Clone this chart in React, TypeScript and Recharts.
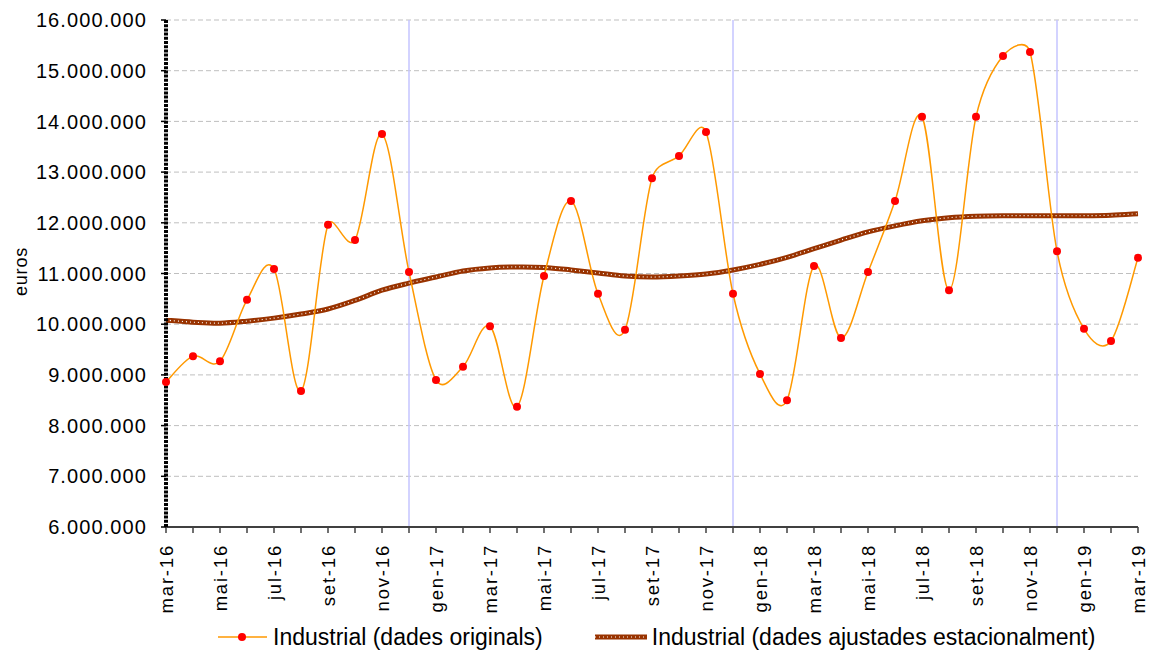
import { LineChart, Line, XAxis, YAxis, CartesianGrid, Legend, ReferenceLine } from 'recharts';

const months = [
  'mar-16', 'abr-16', 'mai-16', 'jun-16', 'jul-16', 'ago-16', 'set-16', 'oct-16', 'nov-16', 'des-16',
  'gen-17', 'feb-17', 'mar-17', 'abr-17', 'mai-17', 'jun-17', 'jul-17', 'ago-17', 'set-17', 'oct-17', 'nov-17', 'des-17',
  'gen-18', 'feb-18', 'mar-18', 'abr-18', 'mai-18', 'jun-18', 'jul-18', 'ago-18', 'set-18', 'oct-18', 'nov-18', 'des-18',
  'gen-19', 'feb-19', 'mar-19',
];

// dades originals (euros)
const original = [
  8860000, 9370000, 9270000, 10480000, 11090000, 8680000, 11960000, 11660000, 13750000, 11030000,
  8900000, 9160000, 9960000, 8370000, 10950000, 12430000, 10600000, 9890000, 12880000, 13320000, 13790000, 10600000,
  9020000, 8500000, 11150000, 9730000, 11030000, 12430000, 14090000, 10670000, 14090000, 15290000, 15370000, 11440000,
  9910000, 9670000, 11310000,
];

// dades ajustades estacionalment (euros)
const adjusted = [
  10080000, 10040000, 10020000, 10060000, 10120000, 10200000, 10300000, 10470000, 10670000, 10810000,
  10930000, 11050000, 11110000, 11130000, 11120000, 11070000, 11010000, 10950000, 10930000, 10950000, 10990000, 11070000,
  11180000, 11320000, 11490000, 11660000, 11820000, 11940000, 12040000, 12100000, 12130000, 12140000, 12140000, 12140000,
  12140000, 12150000, 12180000,
];

const yTicks = [6000000, 7000000, 8000000, 9000000, 10000000, 11000000, 12000000, 13000000, 14000000, 15000000, 16000000];
const yearMarks = ['des-16', 'des-17', 'des-18'];

const data = months.map((m, i) => ({ mes: m, orig: original[i], ajust: adjusted[i] }));

const FONT = '"Liberation Sans", Arial, sans-serif';

const fmt = (v: number) => String(v).replace(/\B(?=(\d{3})+(?!\d))/g, '.');

const dist = (a: number[], b: number[]) => Math.hypot(b[0] - a[0], b[1] - a[1]);

// corba suavitzada com la d'Excel (Bezier amb braços limitats)
const smoothCurve = (context: any) => {
  let pts: number[][] = [];
  return {
    areaStart() {},
    areaEnd() {},
    lineStart() {
      pts = [];
    },
    point(x: number, y: number) {
      pts.push([+x, +y]);
    },
    lineEnd() {
      if (!pts.length) return;
      context.moveTo(pts[0][0], pts[0][1]);
      for (let i = 0; i < pts.length - 1; i++) {
        const p0 = pts[Math.max(i - 1, 0)];
        const p1 = pts[i];
        const p2 = pts[i + 1];
        const p3 = pts[Math.min(i + 2, pts.length - 1)];
        const d12 = dist(p1, p2);
        const d02 = dist(p0, p2);
        const d13 = dist(p1, p3);
        let f1 = 1 / 6;
        let f2 = 1 / 6;
        if (d02 / 6 > d12 / 2 && d02 > 0) f1 = d12 / (2 * d02);
        if (d13 / 6 > d12 / 2 && d13 > 0) f2 = d12 / (2 * d13);
        context.bezierCurveTo(
          p1[0] + (p2[0] - p0[0]) * f1,
          p1[1] + (p2[1] - p0[1]) * f1,
          p2[0] - (p3[0] - p1[0]) * f2,
          p2[1] - (p3[1] - p1[1]) * f2,
          p2[0],
          p2[1]
        );
      }
    },
  };
};

const MonthTick = (props: any) => {
  const { x, y, payload, index } = props;
  if (index % 2 !== 0) return null;
  return (
    <g transform={`translate(${x},${y + 9})`}>
      <text
        transform="rotate(-90)"
        textAnchor="end"
        dominantBaseline="central"
        fontSize={18.5}
        letterSpacing={1.8}
        fontFamily={FONT}
        fill="#000"
      >
        {payload.value}
      </text>
    </g>
  );
};

const LegendBox = () => (
  <div style={{ display: 'flex', alignItems: 'center', marginLeft: 218, fontFamily: FONT, fontSize: 23, color: '#000', height: 32, whiteSpace: 'nowrap' }}>
    <svg width={50} height={12}>
      <line x1={0} y1={6} x2={49} y2={6} stroke="#ff9900" strokeWidth={1.5} />
      <circle cx={24} cy={6} r={4} fill="#ff0000" />
    </svg>
    <span style={{ marginLeft: 5 }}>Industrial (dades originals)</span>
    <svg width={52} height={12} style={{ marginLeft: 52 }}>
      <line x1={0} y1={6} x2={52} y2={6} stroke="#993300" strokeWidth={5} />
      <line x1={0} y1={6} x2={52} y2={6} stroke="#ffffff" strokeWidth={1.2} strokeDasharray="1 3" />
    </svg>
    <span style={{ marginLeft: 5 }}>Industrial (dades ajustades estacionalment)</span>
  </div>
);

export default function App() {
  return (
    <div style={{ position: 'absolute', left: 0, top: 0, background: '#fff' }}>
      <LineChart width={1152} height={653} data={data} margin={{ top: 20, right: 14, left: 0, bottom: 0 }}>
        <CartesianGrid vertical={false} stroke="#bfbfbf" strokeDasharray="5 3" />
        {yearMarks.map((m) => (
          <ReferenceLine key={m} x={m} stroke="#c4c4ff" strokeWidth={1.5} />
        ))}
        <XAxis
          dataKey="mes"
          interval={0}
          height={94}
          tick={<MonthTick />}
          tickSize={6}
          axisLine={{ stroke: '#404040', strokeWidth: 2 }}
          tickLine={{ stroke: '#404040', strokeWidth: 1.5 }}
        />
        <YAxis
          width={166}
          domain={[6000000, 16000000]}
          ticks={yTicks}
          tickFormatter={fmt}
          tickSize={5}
          tickMargin={14}
          tick={{ fontSize: 20, letterSpacing: 1.1, fill: '#000', fontFamily: FONT }}
          axisLine={{ stroke: '#000', strokeWidth: 4, strokeDasharray: '3 1.2' }}
          tickLine={{ stroke: '#000', strokeWidth: 1.5 }}
          label={{ value: 'euros', angle: -90, position: 'insideLeft', offset: 21, dy: -2, style: { fontSize: 18, letterSpacing: 0.8, fill: '#000', fontFamily: FONT, textAnchor: 'middle' } }}
        />
        <Legend verticalAlign="bottom" height={32} content={<LegendBox />} />
        <Line
          type={smoothCurve as any}
          dataKey="ajust"
          stroke="#993300"
          strokeWidth={5}
          dot={false}
          activeDot={false}
          isAnimationActive={false}
        />
        <Line
          type={smoothCurve as any}
          dataKey="ajust"
          stroke="#ffffff"
          strokeWidth={1.2}
          strokeDasharray="1 3"
          dot={false}
          activeDot={false}
          isAnimationActive={false}
        />
        <Line
          type={smoothCurve as any}
          dataKey="orig"
          stroke="#ff9900"
          strokeWidth={1.5}
          dot={{ r: 4, fill: '#ff0000', stroke: 'none' }}
          activeDot={false}
          isAnimationActive={false}
        />
      </LineChart>
    </div>
  );
}
